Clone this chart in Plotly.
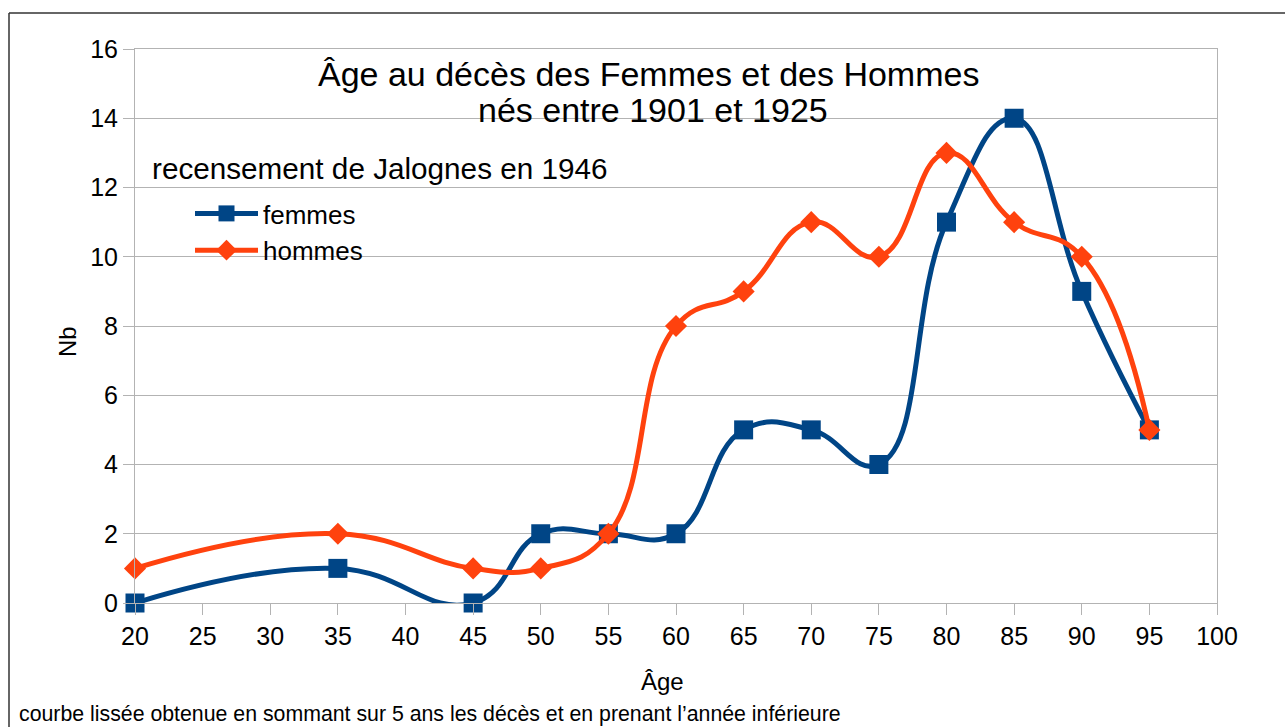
import plotly.graph_objects as go

ages = [20, 35, 45, 50, 55, 60, 65, 70, 75, 80, 85, 90, 95]
femmes = [0, 1, 0, 2, 2, 2, 5, 5, 4, 11, 14, 9, 5]
hommes = [1, 2, 1, 1, 2, 8, 9, 11, 10, 13, 11, 10, 5]
x_ticks = list(range(20, 101, 5))
y_ticks = list(range(0, 17, 2))

FONT = "Liberation Sans, Arial, sans-serif"
W, H = 1285, 727
L, R, T, B = 135, 68, 49, 124
PW, PH = W - L - R, H - T - B


def px(x):
    return (x - L) / PW


def py(y):
    return (H - B - y) / PH


fig = go.Figure()
fig.add_trace(go.Scatter(
    x=ages, y=femmes, name="femmes", mode="lines+markers", cliponaxis=False,
    line=dict(color="#004586", width=5, shape="spline", smoothing=1.3),
    marker=dict(symbol="square", size=19, color="#004586"),
))
fig.add_trace(go.Scatter(
    x=ages, y=hommes, name="hommes", mode="lines+markers", cliponaxis=False,
    line=dict(color="#ff420e", width=5, shape="spline", smoothing=1.3),
    marker=dict(symbol="diamond", size=17, color="#ff420e"),
))

axis_common = dict(
    showline=True, linecolor="#b3b3b3", linewidth=1, mirror=True,
    ticks="outside", ticklen=11, tickcolor="#b3b3b3", tickwidth=1,
    tickfont=dict(family=FONT, size=25, color="black"),
    zeroline=False,
)

fig.update_xaxes(range=[20, 100], tickvals=x_ticks, showgrid=False, **axis_common)
fig.update_yaxes(range=[0, 16], tickvals=y_ticks, showgrid=True,
                 gridcolor="#b3b3b3", gridwidth=1, **axis_common)

ann = [
    dict(text="Âge au décès des Femmes et des Hommes", x=px(648), y=py(74),
         font=dict(size=34)),
    dict(text="nés entre 1901 et 1925", x=px(653), y=py(110), font=dict(size=34)),
    dict(text="recensement de Jalognes en 1946", x=px(150), y=py(168),
         xanchor="left", font=dict(size=29.7)),
    dict(text="Âge", x=px(662), y=py(681), font=dict(size=24)),
    dict(text="Nb", x=px(67), y=py(342), textangle=-90, font=dict(size=24)),
    dict(text="courbe lissée obtenue en sommant sur 5 ans les décès et en prenant l’année inférieure",
         x=px(17), y=py(714), xanchor="left", font=dict(size=21.3)),
]
annotations = []
for a in ann:
    d = dict(xref="paper", yref="paper", showarrow=False, xanchor="center",
             yanchor="middle")
    d.update(a)
    d["font"] = dict(family=FONT, color="black", size=a["font"]["size"])
    annotations.append(d)

shapes = [
    dict(type="line", xref="paper", yref="paper", x0=px(9), x1=px(1290),
         y0=py(13), y1=py(13), line=dict(color="#333333", width=1.5)),
    dict(type="line", xref="paper", yref="paper", x0=px(9), x1=px(9),
         y0=py(13), y1=py(735), line=dict(color="#333333", width=1.5)),
]

fig.update_layout(
    width=W, height=H,
    margin=dict(l=L, r=R, t=T, b=B, pad=0),
    paper_bgcolor="white", plot_bgcolor="white",
    font=dict(family=FONT, color="black"),
    annotations=annotations, shapes=shapes,
    showlegend=True,
    legend=dict(x=px(190), y=py(190), xanchor="left", yanchor="top",
                bgcolor="rgba(0,0,0,0)", font=dict(family=FONT, size=26),
                tracegroupgap=0, itemwidth=63),
)

fig.write_html("out.html", config={"displayModeBar": False},
               post_script="document.body.style.margin='0';document.body.style.overflow='hidden';")
